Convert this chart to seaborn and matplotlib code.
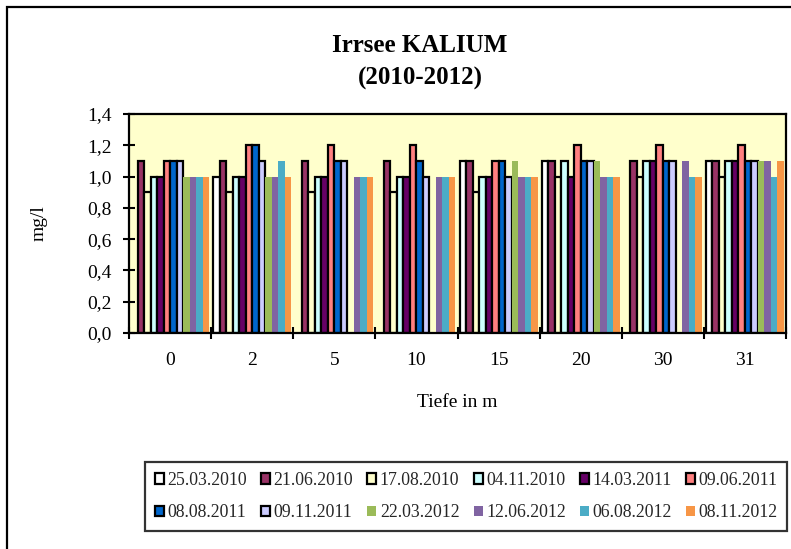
import numpy as np
import pandas as pd
import matplotlib
matplotlib.use("Agg")
import matplotlib.pyplot as plt
from matplotlib.patches import Patch, Rectangle
from matplotlib.ticker import FuncFormatter, FixedLocator
import seaborn as sns

depths = ["0", "2", "5", "10", "15", "20", "30", "31"]
dates = ["25.03.2010", "21.06.2010", "17.08.2010", "04.11.2010", "14.03.2011", "09.06.2011",
         "08.08.2011", "09.11.2011", "22.03.2012", "12.06.2012", "06.08.2012", "08.11.2012"]
nan = np.nan
v_25_03_2010 = [nan, 1.0, nan, nan, 1.1, 1.1, nan, 1.1]
v_21_06_2010 = [1.1, 1.1, 1.1, 1.1, 1.1, 1.1, 1.1, 1.1]
v_17_08_2010 = [0.9, 0.9, 0.9, 0.9, 0.9, 1.0, 1.0, 1.0]
v_04_11_2010 = [1.0, 1.0, 1.0, 1.0, 1.0, 1.1, 1.1, 1.1]
v_14_03_2011 = [1.0, 1.0, 1.0, 1.0, 1.0, 1.0, 1.1, 1.1]
v_09_06_2011 = [1.1, 1.2, 1.2, 1.2, 1.1, 1.2, 1.2, 1.2]
v_08_08_2011 = [1.1, 1.2, 1.1, 1.1, 1.1, 1.1, 1.1, 1.1]
v_09_11_2011 = [1.1, 1.1, 1.1, 1.0, 1.0, 1.1, 1.1, 1.1]
v_22_03_2012 = [1.0, 1.0, nan, nan, 1.1, 1.1, nan, 1.1]
v_12_06_2012 = [1.0, 1.0, 1.0, 1.0, 1.0, 1.0, 1.1, 1.1]
v_06_08_2012 = [1.0, 1.1, 1.0, 1.0, 1.0, 1.0, 1.0, 1.0]
v_08_11_2012 = [1.0, 1.0, 1.0, 1.0, 1.0, 1.0, 1.0, 1.1]
series = [v_25_03_2010, v_21_06_2010, v_17_08_2010, v_04_11_2010, v_14_03_2011, v_09_06_2011,
          v_08_08_2011, v_09_11_2011, v_22_03_2012, v_12_06_2012, v_06_08_2012, v_08_11_2012]
colors = ["#FFFFFF", "#993366", "#FFFFCC", "#CCFFFF", "#660066", "#FF8080",
          "#0066CC", "#CCCCFF", "#9BBB59", "#8064A2", "#4BACC6", "#F79646"]
edged = [True] * 8 + [False] * 4
yticks = [0.0, 0.2, 0.4, 0.6, 0.8, 1.0, 1.2, 1.4]

rows = []
for d, vals in zip(dates, series):
    for dep, v in zip(depths, vals):
        if not np.isnan(v):
            rows.append({"Tiefe": dep, "Datum": d, "Wert": v})
df = pd.DataFrame(rows)

sns.set_theme(style="white")
plt.rcParams["font.family"] = ["Liberation Serif", "DejaVu Serif"]

W, H = 791, 549
fig = plt.figure(figsize=(W / 100, H / 100), dpi=100)
ax = fig.add_axes([129 / W, 1 - 333 / H, (786 - 129) / W, (333 - 114) / H])
ax.set_facecolor("#FFFFCC")

sns.barplot(data=df, x="Tiefe", y="Wert", hue="Datum", order=depths, hue_order=dates,
            palette=colors, width=0.95, dodge=True, errorbar=None, saturation=1,
            ax=ax, legend=False)

for cont, e in zip(ax.containers, edged):
    for p in cont:
        if e:
            p.set_edgecolor("black")
            p.set_linewidth(1.6)
        else:
            p.set_linewidth(0)

ax.set_xlim(-0.5, len(depths) - 0.5)
ax.set_ylim(0, 1.4)
ax.yaxis.set_major_locator(FixedLocator(yticks))
ax.yaxis.set_major_formatter(FuncFormatter(lambda v, p: f"{v:.1f}".replace(".", ",")))
ax.set_xticks(range(len(depths)))
ax.set_xticklabels(depths)
ax.set_xticks(np.arange(-0.5, len(depths), 1.0), minor=True)
ax.tick_params(axis="x", which="major", length=0, pad=14, labelsize=14, colors="black")
ax.tick_params(axis="x", which="minor", length=9, width=1.5, direction="inout", bottom=True, color="black")
ax.tick_params(axis="y", which="major", length=9, width=1.5, direction="inout", left=True,
               labelsize=14, pad=8, colors="black")
for s in ax.spines.values():
    s.set_color("black")
    s.set_linewidth(1.6)

ax.set_xlabel("Tiefe in m", fontsize=14, labelpad=18, color="black")
ax.set_ylabel("mg/l", fontsize=14, labelpad=28, color="black")

fig.text(420 / W, 1 - 45 / H, "Irrsee KALIUM", ha="center", va="center",
         fontsize=18, fontweight="bold", color="black")
fig.text(420 / W, 1 - 78 / H, "(2010-2012)", ha="center", va="center",
         fontsize=18, fontweight="bold", color="black")

handles = [Patch(facecolor=c, edgecolor="black" if e else c, linewidth=1.6 if e else 0, label=d)
           for d, c, e in zip(dates, colors, edged)]
ncol = 6
ordered = []
for c in range(ncol):
    ordered.append(handles[c])
    ordered.append(handles[c + ncol])
leg = fig.legend(handles=ordered, ncol=ncol, loc="upper left",
                 bbox_to_anchor=(145 / W, 1 - 462 / H), fontsize=12.8,
                 frameon=True, fancybox=False, edgecolor="black", borderaxespad=0,
                 handlelength=0.5, handleheight=0.5, handletextpad=0.2,
                 columnspacing=0.8, borderpad=0.55, labelspacing=0.85)
leg.get_frame().set_linewidth(1.6)

border = Rectangle((7 / W, -0.05), 1.2, 1 - 7 / H + 0.05, transform=fig.transFigure,
                   fill=False, edgecolor="black", linewidth=1.6, clip_on=False)
fig.patches.append(border)

fig.savefig("out.png", dpi=100)
